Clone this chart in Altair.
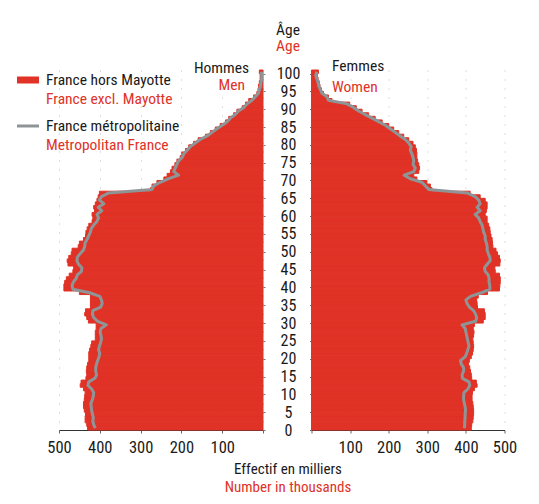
import altair as alt
import pandas as pd

# ---------------- data (thousands) ----------------
ages = list(range(101))

men_total = [430, 432, 436, 436, 435, 438, 440, 440, 438, 437,
             436, 440, 448, 446, 434, 432, 433, 432, 430, 427,
             427, 427, 425, 422, 420, 411, 411, 411, 409, 409,
             428, 432, 437, 435, 423, 423, 423, 423, 450, 488,
             488, 486, 482, 475, 466, 464, 478, 480, 476, 470,
             468, 453, 450, 440, 435, 434, 431, 427, 419, 417,
             419, 413, 415, 411, 407, 404, 401, 276, 272, 260,
             243, 235, 227, 223, 216, 211, 203, 199, 190, 182,
             170, 159, 141, 129, 117, 105, 92, 84, 72, 64,
             51, 43, 35, 23, 15, 12, 11, 9, 7, 7, 9]

men_metro = [411, 415, 417, 416, 418, 420, 421, 422, 418, 416,
             415, 420, 429, 427, 412, 408, 410, 410, 408, 405,
             402, 400, 403, 401, 398, 396, 397, 399, 397, 384,
             405, 415, 418, 417, 398, 394, 396, 400, 425, 466,
             468, 465, 458, 455, 445, 444, 452, 456, 455, 448,
             440, 437, 436, 431, 427, 423, 421, 415, 407, 403,
             407, 395, 404, 390, 401, 396, 378, 272, 268, 252,
             231, 207, 219, 215, 211, 207, 198, 194, 186, 178,
             166, 154, 137, 125, 113, 100, 88, 80, 68, 60,
             47, 39, 27, 19, 11, 9, 6, 5, 3, 3, 4]

women_total = [414, 415, 418, 419, 420, 420, 419, 418, 416, 416,
               417, 422, 429, 427, 415, 414, 412, 410, 407, 409,
               414, 417, 419, 420, 419, 418, 420, 421, 419, 422,
               445, 450, 450, 448, 430, 429, 428, 432, 456, 487,
               488, 489, 489, 487, 476, 475, 488, 489, 487, 482,
               478, 470, 469, 468, 465, 463, 462, 459, 455, 455,
               450, 453, 455, 455, 450, 437, 411, 312, 308, 299,
               273, 265, 278, 280, 278, 275, 273, 273, 272, 269,
               263, 252, 239, 226, 213, 200, 183, 165, 148, 131,
               116, 99, 53, 44, 31, 26, 22, 20, 17, 15, 18]

women_metro = [396, 397, 397, 398, 398, 399, 398, 396, 394, 394,
               395, 405, 410, 408, 391, 390, 394, 394, 388, 386,
               398, 402, 405, 408, 406, 404, 402, 400, 398, 390,
               425, 428, 425, 420, 409, 403, 400, 412, 440, 462,
               462, 460, 460, 458, 450, 448, 455, 463, 462, 458,
               455, 455, 453, 450, 450, 446, 444, 442, 437, 433,
               424, 437, 429, 437, 433, 424, 403, 304, 295, 286,
               256, 240, 265, 269, 263, 265, 263, 260, 256, 258,
               252, 243, 230, 217, 204, 191, 174, 157, 139, 122,
               109, 92, 44, 40, 27, 23, 19, 17, 14, 11, 14]

x_ticks = [0, 100, 200, 300, 400, 500]
age_ticks = list(range(0, 101, 5))

df = pd.DataFrame({
    "age": ages,
    "men_total": men_total,
    "men_metro": men_metro,
    "women_total": women_total,
    "women_metro": women_metro,
})

# ---------------- style ----------------
RED = "#e03226"
GREY = "#8f9597"
INK = "#1a1a1a"
FONT = "Roboto Condensed"

W_LEFT, W_RIGHT, H = 204, 193, 360

y_scale = alt.Scale(domain=[0, 101], nice=False, zero=False)
one = pd.DataFrame({"k": [0]})


def label(txt, x, y, color, align="left", size=15.5):
    return alt.Chart(one).mark_text(
        text=txt, align=align, baseline="alphabetic", font=FONT,
        fontSize=size, color=color,
    ).encode(x=alt.value(x), y=alt.value(y))


def x_axis():
    return alt.Axis(
        values=x_ticks, labelExpr="datum.value == 0 ? '' : datum.label",
        title=None, grid=True, gridDash=[1, 8], gridColor="#bdbdbd", gridWidth=1,
        domainColor="#333333", domainWidth=1, tickColor="#666666", tickSize=3,
        labelFont=FONT, labelFontSize=16.5, labelColor=INK, labelPadding=6,
        labelOverlap=False, labelFlush=False,
    )


def y_axis(orient, labels):
    return alt.Axis(
        orient=orient, values=age_ticks, labels=labels, title=None,
        domain=False, grid=False, tickSize=2, tickColor="#777777",
        labelFont=FONT, labelFontSize=16, labelColor=INK,
        labelAlign="center", labelBaseline="middle", labelPadding=21.5,
        labelOverlap=False,
    )


def panel(total, metro, reverse, yorient, ylabels):
    xs = alt.Scale(domain=[0, 500], reverse=reverse, nice=False, zero=True)
    base = alt.Chart(df).transform_calculate(
        age_top="datum.age + 1", age_mid="datum.age + 0.5"
    )
    bars = base.mark_rect(color=RED, stroke=RED, strokeWidth=1).encode(
        x=alt.X(f"{total}:Q", scale=xs, axis=x_axis()),
        x2=alt.datum(0),
        y=alt.Y("age:Q", scale=y_scale, axis=y_axis(yorient, ylabels)),
        y2="age_top:Q",
    )
    line = base.mark_line(color=GREY, strokeWidth=3, strokeJoin="round").encode(
        x=alt.X(f"{metro}:Q", scale=xs, axis=x_axis()),
        y=alt.Y("age_mid:Q", scale=y_scale, axis=y_axis(yorient, ylabels)),
        order="age:Q",
    )
    return bars, line


bl, ll = panel("men_total", "men_metro", True, "right", False)
br, lr = panel("women_total", "women_metro", False, "left", True)

legend_box = alt.Chart(one).mark_rect(color=RED).encode(
    x=alt.value(-42), x2=alt.value(-20), y=alt.value(6.5), y2=alt.value(13.5)
)
legend_line = alt.Chart(one).mark_rule(color=GREY, strokeWidth=3).encode(
    x=alt.value(-42), x2=alt.value(-20), y=alt.value(56)
)

left = alt.layer(
    bl, ll,
    legend_box, legend_line,
    label("France hors Mayotte", -13, 14.8, INK),
    label("France excl. Mayotte", -13, 33.5, RED),
    label("France métropolitaine", -13, 60.8, INK),
    label("Metropolitan France", -13, 80.2, RED),
    label("Hommes", 190, 2.5, INK, align="right"),
    label("Men", 186, 19.5, RED, align="right"),
).properties(width=W_LEFT, height=H)

right = alt.layer(
    br, lr,
    label("Femmes", 20.5, 1.2, INK),
    label("Women", 20.5, 22, RED),
    label("Âge", -23.5, -35.5, INK, align="center"),
    label("Age", -23.5, -18.8, RED, align="center"),
    label("Effectif en milliers", -23.5, 403.5, INK, align="center", size=15),
    label("Number in thousands", -23.5, 422, RED, align="center", size=15),
).properties(width=W_RIGHT, height=H)

chart = alt.hconcat(left, right, spacing=48.5, bounds="flush").properties(
    padding={"left": 7, "top": 14, "right": 5, "bottom": 5},
    background="white",
).configure_view(strokeWidth=0)

chart.save("out.html", embed_options={"renderer": "svg", "actions": False})
